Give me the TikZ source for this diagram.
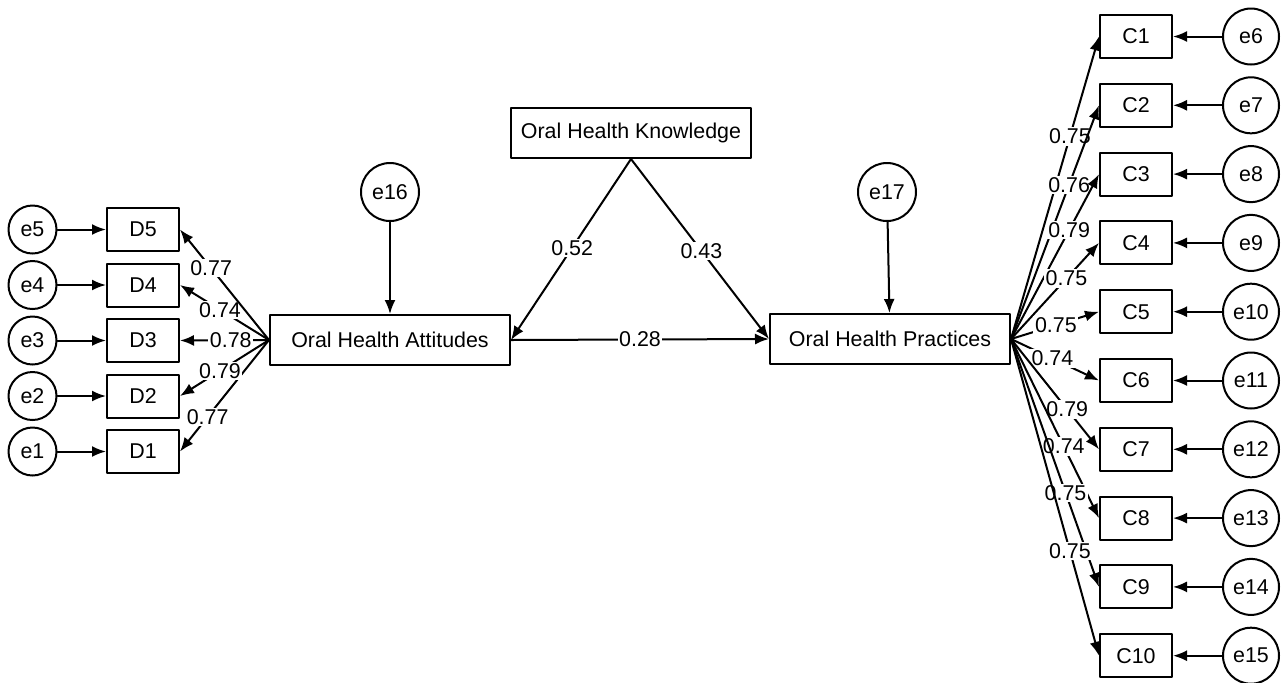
\documentclass[tikz,border=0pt]{standalone}
\usepackage{fontspec}
\setmainfont{Liberation Sans}
\usetikzlibrary{arrows.meta}

\begin{document}
\begin{tikzpicture}[x=0.5pt, y=-0.5pt, line cap=round, line join=round,
  >={Latex[length=7pt,width=5.5pt]}, line width=1pt,
  font=\fontsize{10.7pt}{12pt}\selectfont,
  obs/.style={draw, rectangle, inner sep=0pt, minimum width=36pt, minimum height=21.5pt},
  lat/.style={draw, rectangle, inner sep=0pt, minimum width=120pt, minimum height=25pt},
  err/.style={draw, circle, inner sep=0pt, minimum size=24pt},
  lbl/.style={fill=white, inner sep=0.8pt}]

  \useasboundingbox (0,0) rectangle (1282,682);

  % ===== Latent constructs =====
  \node[lat] (K) at (631,133) {Oral Health Knowledge};
  \node[lat] (A) at (390,340) {Oral Health Attitudes};
  \node[lat] (P) at (890,339) {Oral Health Practices};

  \node[err, minimum size=29pt] (e16) at (390,192) {e16};
  \node[err, minimum size=29pt] (e17) at (887,192) {e17};

  \draw[->] (e16) -- (A);
  \draw[->] (e17) -- (P);

  % ===== Structural paths =====
  \draw[->] (K.south) -- node[lbl, pos=0.49] {0.52} (A.east);
  \draw[->] (K.south) -- node[lbl, pos=0.51] {0.43} (P.west);
  \draw[->] (A.east) -- node[lbl] {0.28} (P.west);

  % ===== Attitude items (left) =====
  \foreach \i/\l/\p in {1/0.77/0.69, 2/0.79/0.55, 3/0.78/0.43, 4/0.74/0.55, 5/0.77/0.65} {
    \node[obs] (D\i) at (143,451.5-55.5*\i+55.5) {D\i};
    \node[err] (e\i) at (32.5,451.5-55.5*\i+55.5) {e\i};
    \draw[->] (e\i) -- (D\i);
    \draw[->] (A.west) -- node[lbl, pos=\p] {\l} (D\i.east);
  }

  % ===== Practice items (right) =====
  \foreach \i/\l/\p in {1/0.75/0.67, 2/0.76/0.66, 3/0.79/0.66, 4/0.75/0.63, 5/0.75/0.51,
                        6/0.74/0.47, 7/0.79/0.64, 8/0.74/0.60, 9/0.75/0.62, 10/0.75/0.67} {
    \pgfmathtruncatemacro{\j}{\i+5}
    \node[obs] (C\i) at (1136,36.5+68.8*\i-68.8) {C\i};
    \node[err, minimum size=28pt] (e\j) at (1251,36.5+68.8*\i-68.8) {e\j};
    \draw[->] (e\j) -- (C\i);
    \draw[->] (P.east) -- node[lbl, pos=\p] {\l} (C\i.west);
  }

\end{tikzpicture}
\end{document}
